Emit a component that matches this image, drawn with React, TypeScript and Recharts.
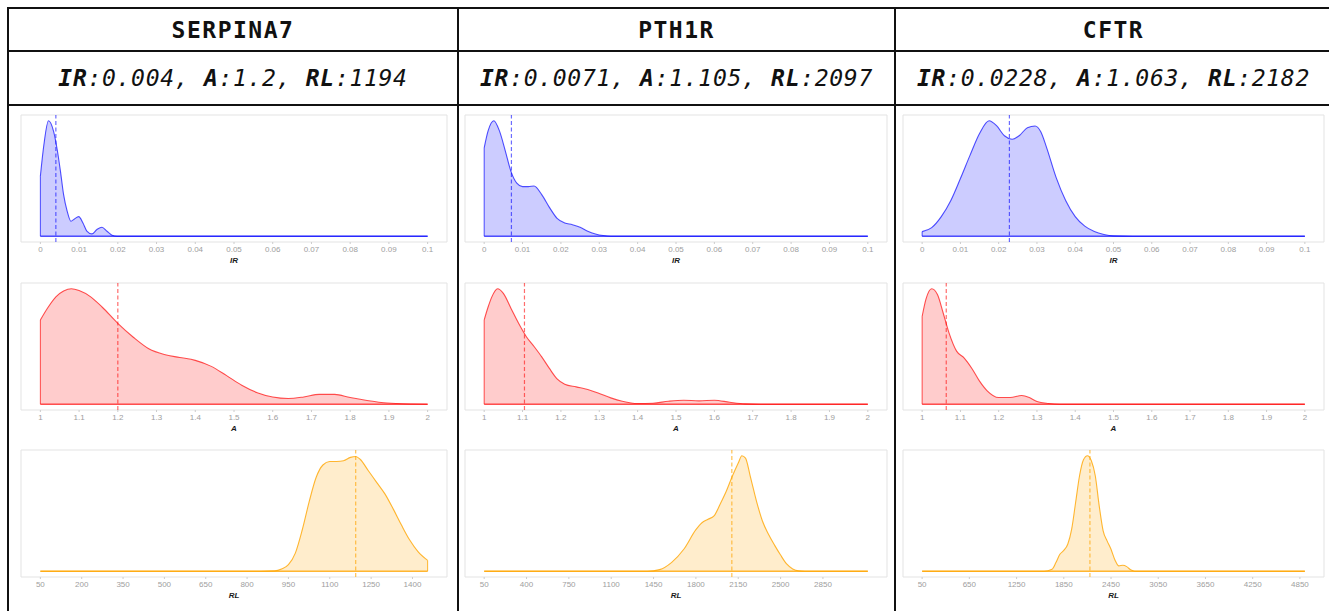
import React from 'react';
import { AreaChart, Area, XAxis, YAxis, ReferenceLine, ReferenceArea } from 'recharts';

type Pt = [number, number];

const genes = ['SERPINA7', 'PTH1R', 'CFTR'];
const medianIR = [0.004, 0.0071, 0.0228];
const medianA = [1.2, 1.105, 1.063];
const medianRL = [1194, 2097, 2182];

const irTicks = [0, 0.01, 0.02, 0.03, 0.04, 0.05, 0.06, 0.07, 0.08, 0.09, 0.1];
const aTicks = [1, 1.1, 1.2, 1.3, 1.4, 1.5, 1.6, 1.7, 1.8, 1.9, 2];
const rlTicksSerpina = [50, 200, 350, 500, 650, 800, 950, 1100, 1250, 1400];
const rlTicksPth1r = [50, 400, 750, 1100, 1450, 1800, 2150, 2500, 2850];
const rlTicksCftr = [50, 650, 1250, 1850, 2450, 3050, 3650, 4250, 4850];

const irRange: Pt = [0, 0.1];
const aRange: Pt = [1, 2];
const rlRanges: Pt[] = [[50, 1455], [50, 3221], [50, 4913]];

// density heights, relative to each curve's peak
const serpinaIR: Pt[] = [
  [0, 0.52], [0.0009, 0.79], [0.0021, 1.0], [0.0034, 0.91], [0.0043, 0.76], [0.0052, 0.56],
  [0.006, 0.36], [0.0069, 0.22], [0.0079, 0.13], [0.0088, 0.15], [0.0099, 0.17], [0.011, 0.115],
  [0.012, 0.045], [0.0133, 0.02], [0.0146, 0.058], [0.0159, 0.078], [0.0172, 0.043],
  [0.0185, 0.009], [0.0198, 0], [0.03, 0], [0.1, 0],
];
const pth1rIR: Pt[] = [
  [0, 0.765], [0.001, 0.91], [0.0025, 1.0], [0.004, 0.91], [0.0055, 0.74], [0.007, 0.56],
  [0.0085, 0.46], [0.01, 0.43], [0.0115, 0.43], [0.013, 0.435], [0.015, 0.36], [0.017, 0.25],
  [0.019, 0.155], [0.021, 0.115], [0.023, 0.1], [0.025, 0.077], [0.027, 0.043], [0.029, 0.02],
  [0.031, 0.006], [0.033, 0], [0.1, 0],
];
const cftrIR: Pt[] = [
  [0, 0.04], [0.0025, 0.075], [0.005, 0.17], [0.0075, 0.31], [0.01, 0.5], [0.0125, 0.7],
  [0.015, 0.89], [0.0175, 1.0], [0.0195, 0.955], [0.0215, 0.87], [0.0235, 0.84], [0.0255, 0.875],
  [0.0275, 0.94], [0.0295, 0.955], [0.031, 0.905], [0.0325, 0.77], [0.035, 0.51], [0.0375, 0.31],
  [0.04, 0.17], [0.0425, 0.087], [0.045, 0.04], [0.0475, 0.015], [0.05, 0.003], [0.055, 0],
  [0.1, 0],
];

const serpinaA: Pt[] = [
  [1, 0.73], [1.02, 0.84], [1.04, 0.93], [1.06, 0.98], [1.08, 1.0], [1.1, 0.985], [1.13, 0.93],
  [1.16, 0.84], [1.2, 0.7], [1.24, 0.58], [1.28, 0.48], [1.32, 0.43], [1.36, 0.405], [1.4, 0.38],
  [1.44, 0.33], [1.48, 0.25], [1.52, 0.165], [1.56, 0.1], [1.6, 0.063], [1.64, 0.05],
  [1.68, 0.063], [1.72, 0.085], [1.76, 0.085], [1.8, 0.058], [1.84, 0.035], [1.88, 0.015],
  [1.92, 0.006], [1.96, 0.002], [2, 0],
];
const pth1rA: Pt[] = [
  [1, 0.73], [1.01, 0.84], [1.02, 0.93], [1.035, 1.0], [1.05, 0.96], [1.07, 0.83], [1.09, 0.7],
  [1.11, 0.585], [1.13, 0.5], [1.15, 0.41], [1.17, 0.31], [1.19, 0.22], [1.21, 0.174],
  [1.24, 0.15], [1.27, 0.128], [1.3, 0.093], [1.33, 0.055], [1.36, 0.026], [1.4, 0.006],
  [1.44, 0.009], [1.48, 0.026], [1.52, 0.035], [1.56, 0.029], [1.6, 0.035], [1.64, 0.017],
  [1.68, 0.003], [1.72, 0], [2, 0],
];
const cftrA: Pt[] = [
  [1, 0.76], [1.01, 0.91], [1.025, 1.0], [1.04, 0.95], [1.055, 0.79], [1.07, 0.62], [1.09, 0.46],
  [1.11, 0.4], [1.13, 0.31], [1.15, 0.2], [1.17, 0.116], [1.2, 0.058], [1.23, 0.058],
  [1.26, 0.075], [1.28, 0.058], [1.3, 0.023], [1.33, 0.006], [1.36, 0], [2, 0],
];

const serpinaRL: Pt[] = [
  [50, 0], [850, 0], [900, 0.003], [925, 0.02], [950, 0.057], [975, 0.157], [1000, 0.357],
  [1025, 0.6], [1050, 0.81], [1075, 0.92], [1100, 0.95], [1125, 0.95], [1150, 0.957],
  [1175, 0.986], [1194, 0.994], [1210, 0.97], [1240, 0.87], [1270, 0.77], [1300, 0.67],
  [1330, 0.54], [1360, 0.4], [1390, 0.27], [1420, 0.17], [1455, 0.094],
];
const pth1rRL: Pt[] = [
  [50, 0], [1400, 0], [1500, 0.014], [1600, 0.077], [1700, 0.19], [1800, 0.36], [1850, 0.42],
  [1900, 0.45], [1950, 0.48], [2000, 0.58], [2050, 0.69], [2100, 0.82], [2150, 0.937],
  [2180, 1.0], [2210, 0.98], [2250, 0.82], [2300, 0.61], [2350, 0.435], [2400, 0.32],
  [2450, 0.226], [2500, 0.14], [2550, 0.063], [2600, 0.02], [2650, 0.003], [2700, 0], [3221, 0],
];
const cftrRL: Pt[] = [
  [50, 0], [1600, 0], [1700, 0.017], [1750, 0.075], [1800, 0.147], [1850, 0.18], [1900, 0.234],
  [1950, 0.364], [2000, 0.595], [2050, 0.827], [2100, 0.965], [2150, 1.0], [2200, 0.957],
  [2250, 0.827], [2300, 0.566], [2350, 0.35], [2400, 0.263], [2450, 0.19], [2500, 0.098],
  [2550, 0.046], [2600, 0.052], [2650, 0.04], [2700, 0.012], [2750, 0], [4913, 0],
];

const irCurves = [serpinaIR, pth1rIR, cftrIR];
const aCurves = [serpinaA, pth1rA, cftrA];
const rlCurves = [serpinaRL, pth1rRL, cftrRL];
const rlTicks = [rlTicksSerpina, rlTicksPth1r, rlTicksCftr];

const BLUE = '#0000ff';
const RED = '#ff0000';
const ORANGE = '#ffa500';

const colLefts = [9, 459, 896];
const colWidths = [448, 435, 435];
const panelLefts = [21, 465, 903];
const panelWidths = [426, 422, 421];
const panelTops = [115, 283, 450];
const PANEL_H = 127;

const mono = '"DejaVu Sans Mono", "Liberation Mono", monospace';
const sans = '"Liberation Sans", Arial, Helvetica, sans-serif';

function Density({
  points, range, ticks, median, color, lineAlpha, title, left, top, width,
}: {
  points: Pt[]; range: Pt; ticks: number[]; median: number; color: string;
  lineAlpha: number; title: string; left: number; top: number; width: number;
}) {
  const [lo, hi] = range;
  const pad = (hi - lo) * 0.05;
  const data = points.map(([x, y]) => ({ x, y }));
  const first = points[0];
  const last = points[points.length - 1];
  return (
    <div style={{ position: 'absolute', left: left - 1, top: top - 1 }}>
      <AreaChart
        width={width + 2}
        height={PANEL_H + 31}
        data={data}
        margin={{ top: 1, right: 1, left: 1, bottom: 0 }}
      >
        <XAxis
          type="number"
          dataKey="x"
          domain={[lo - pad, hi + pad]}
          allowDataOverflow
          ticks={ticks}
          interval={0}
          axisLine={false}
          tickLine={{ stroke: '#cccccc' }}
          tickSize={2}
          tickMargin={2}
          height={30}
          tick={{ fontSize: 8, fill: '#9e9e9e', fontFamily: sans }}
          label={{
            value: title,
            position: 'insideBottom',
            offset: 9,
            fontSize: 8,
            fontWeight: 'bold',
            fontStyle: 'italic',
            fill: '#1a1a1a',
            fontFamily: sans,
          }}
        />
        <YAxis hide type="number" domain={[-0.05, 1.05]} allowDataOverflow />
        <ReferenceArea
          x1={lo - pad}
          x2={hi + pad}
          y1={-0.05}
          y2={1.05}
          fill="none"
          stroke="#e3e3e3"
          ifOverflow="visible"
        />
        <Area
          type="monotone"
          dataKey="y"
          stroke={color}
          strokeOpacity={lineAlpha}
          strokeWidth={1.1}
          fill={color}
          fillOpacity={0.2}
          dot={false}
          activeDot={false}
          isAnimationActive={false}
        />
        <ReferenceLine
          segment={[{ x: lo, y: 0 }, { x: hi, y: 0 }]}
          stroke={color}
          strokeOpacity={lineAlpha}
          strokeWidth={1.3}
        />
        {first[1] > 0 && (
          <ReferenceLine
            segment={[{ x: first[0], y: 0 }, { x: first[0], y: first[1] }]}
            stroke={color}
            strokeOpacity={lineAlpha}
          />
        )}
        {last[1] > 0 && (
          <ReferenceLine
            segment={[{ x: last[0], y: 0 }, { x: last[0], y: last[1] }]}
            stroke={color}
            strokeOpacity={lineAlpha}
          />
        )}
        <ReferenceLine
          x={median}
          stroke={color}
          strokeOpacity={lineAlpha * 0.85}
          strokeWidth={1.2}
          strokeDasharray="4 2.5"
        />
      </AreaChart>
    </div>
  );
}

const hLine = (y: number) => (
  <div key={'h' + y} style={{ position: 'absolute', left: 7, top: y, width: 1330, height: 2, background: '#111' }} />
);
const vLine = (x: number) => (
  <div key={'v' + x} style={{ position: 'absolute', left: x, top: 7, width: 2, height: 610, background: '#111' }} />
);

export default function App() {
  return (
    <div style={{ position: 'relative', width: 1329, height: 611, overflow: 'hidden', background: '#fff' }}>
      <style>{'body{margin:0;overflow:hidden;}'}</style>
      {[7, 50, 104].map(hLine)}
      {[7, 457, 894, 1331].map(vLine)}
      {genes.map((g, i) => (
        <React.Fragment key={g}>
          <div
            style={{
              position: 'absolute', left: colLefts[i], top: 9, width: colWidths[i], height: 41,
              display: 'flex', alignItems: 'center', justifyContent: 'center',
              fontFamily: mono, fontWeight: 'bold', fontSize: 23, letterSpacing: 1.5, color: '#111',
            }}
          >
            {g}
          </div>
          <div
            style={{
              position: 'absolute', left: colLefts[i], top: 52, width: colWidths[i], height: 52,
              display: 'flex', alignItems: 'center', justifyContent: 'center', whiteSpace: 'pre',
              fontFamily: mono, fontStyle: 'italic', fontSize: 23, letterSpacing: 0.7, color: '#111',
            }}
          >
            <b>IR</b>:{String(medianIR[i])}, <b>A</b>:{String(medianA[i])}, <b>RL</b>:{String(medianRL[i])}
          </div>
          <Density
            points={irCurves[i]} range={irRange} ticks={irTicks} median={medianIR[i]}
            color={BLUE} lineAlpha={0.68} title="IR"
            left={panelLefts[i]} top={panelTops[0]} width={panelWidths[i]}
          />
          <Density
            points={aCurves[i]} range={aRange} ticks={aTicks} median={medianA[i]}
            color={RED} lineAlpha={0.68} title="A"
            left={panelLefts[i]} top={panelTops[1]} width={panelWidths[i]}
          />
          <Density
            points={rlCurves[i]} range={rlRanges[i]} ticks={rlTicks[i]} median={medianRL[i]}
            color={ORANGE} lineAlpha={0.8} title="RL"
            left={panelLefts[i]} top={panelTops[2]} width={panelWidths[i]}
          />
        </React.Fragment>
      ))}
    </div>
  );
}
